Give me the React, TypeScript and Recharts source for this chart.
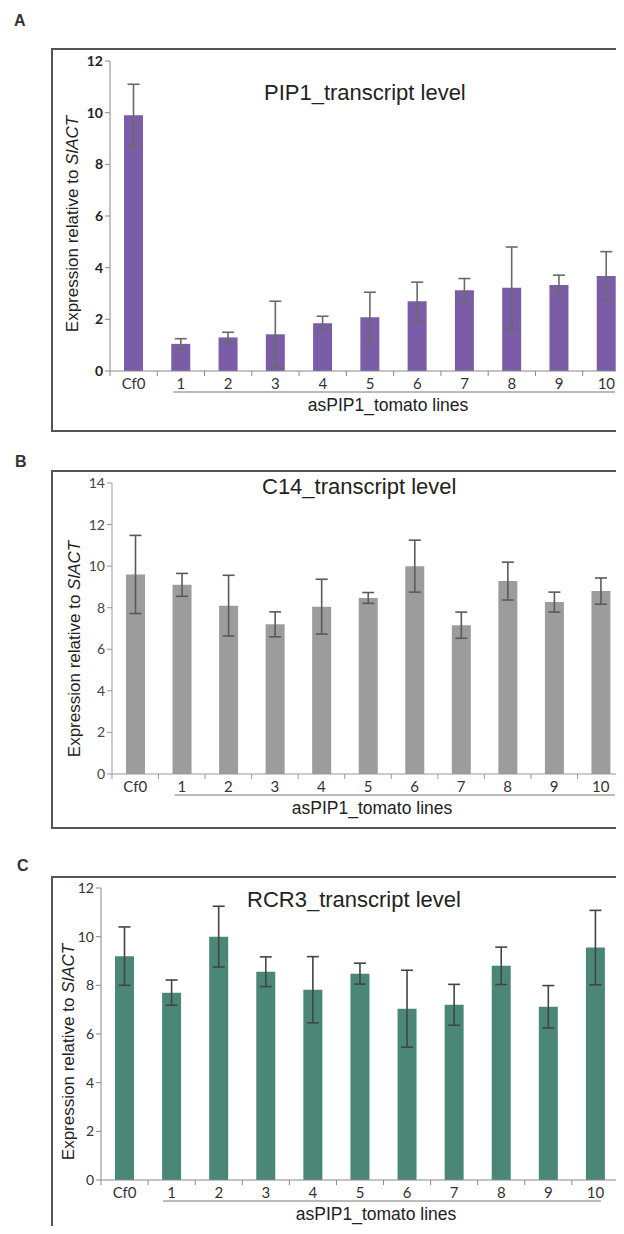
import React from "react";
import { BarChart, Bar, XAxis, YAxis, ErrorBar } from "recharts";

const lines = ["Cf0", "1", "2", "3", "4", "5", "6", "7", "8", "9", "10"];

const pip1Values = [9.9, 1.05, 1.3, 1.42, 1.85, 2.08, 2.7, 3.13, 3.22, 3.33, 3.68];
const pip1Errors = [1.2, 0.2, 0.2, 1.28, 0.27, 0.97, 0.74, 0.45, 1.58, 0.38, 0.94];
const pip1Ticks = [0, 2, 4, 6, 8, 10, 12];

const c14Values = [9.6, 9.1, 8.1, 7.2, 8.05, 8.47, 10.0, 7.16, 9.28, 8.27, 8.8];
const c14Errors = [1.88, 0.55, 1.46, 0.6, 1.32, 0.26, 1.25, 0.63, 0.91, 0.48, 0.63];
const c14Ticks = [0, 2, 4, 6, 8, 10, 12, 14];

const rcr3Values = [9.2, 7.7, 10.0, 8.56, 7.82, 8.48, 7.04, 7.2, 8.8, 7.12, 9.55];
const rcr3Errors = [1.2, 0.52, 1.25, 0.61, 1.36, 0.43, 1.58, 0.84, 0.77, 0.87, 1.53];
const rcr3Ticks = [0, 2, 4, 6, 8, 10, 12];

const CHART_W = 640;
const Y_AXIS_W = 60;
const X_AXIS_H = 30;
const TITLE_FONT = "'Liberation Sans', Arial, sans-serif";
const TICK_FONT = "Lato, 'Open Sans', sans-serif";

type PanelProps = {
  letter: string;
  letterLeft: number;
  letterTop: number;
  title: string;
  titleLeft: number;
  titleTop: number;
  boxTop: number;
  boxHeight: number;
  values: number[];
  errors: number[];
  ticks: number[];
  color: string;
  errColor: string;
  axisColor: string;
  tickColor: string;
  tickBold?: boolean;
  axisX: number;
  plotRight: number;
  plotTop: number;
  plotBottom: number;
  yLabelX: number;
  yLabelY: number;
  lineStart: number;
  lineEnd: number;
  xTitleX: number;
};

function Panel(p: PanelProps) {
  const data = lines.map((name, i) => ({ name, value: p.values[i], err: p.errors[i] }));
  const band = (p.plotRight - p.axisX) / lines.length;
  const top = p.plotTop - p.boxTop;
  const bottomY = p.plotBottom - p.boxTop;
  const margin = {
    top,
    left: p.axisX - Y_AXIS_W,
    right: CHART_W - p.plotRight,
    bottom: p.boxHeight - bottomY - X_AXIS_H,
  };

  // tick marks sit on the category boundaries, labels in the middle
  const xTick = (props: any) => {
    const { x, y, payload, index } = props;
    return (
      <g>
        <line x1={x - band / 2} x2={x - band / 2} y1={y} y2={y + 5} stroke={p.axisColor} />
        {index === lines.length - 1 && (
          <line x1={x + band / 2} x2={x + band / 2} y1={y} y2={y + 5} stroke={p.axisColor} />
        )}
        <text x={x} y={y + 18} textAnchor="middle" fontSize={15} fontFamily={TICK_FONT} fill="#333">
          {payload.value}
        </text>
      </g>
    );
  };

  const xTitle = () => (
    <g>
      <line
        x1={p.axisX + band + p.lineStart}
        x2={p.plotRight - p.lineEnd}
        y1={bottomY + 21}
        y2={bottomY + 21}
        stroke="#777"
        strokeWidth={1.2}
      />
      <text x={p.xTitleX} y={bottomY + 40} textAnchor="middle" fontSize={17.5} fontFamily={TITLE_FONT} fill="#222">
        asPIP1_tomato lines
      </text>
    </g>
  );

  const yTitle = () => (
    <text
      x={p.yLabelX}
      y={p.yLabelY}
      transform={`rotate(-90 ${p.yLabelX} ${p.yLabelY})`}
      textAnchor="middle"
      dominantBaseline="central"
      fontSize={17}
      fontFamily={TITLE_FONT}
      fill="#222"
    >
      Expression relative to <tspan fontStyle="italic">SlACT</tspan>
    </text>
  );

  return (
    <>
      <div
        style={{
          position: "absolute",
          left: p.letterLeft,
          top: p.letterTop,
          fontFamily: TITLE_FONT,
          fontWeight: "bold",
          fontSize: 16,
          lineHeight: "16px",
          color: "#333",
        }}
      >
        {p.letter}
      </div>
      <div
        style={{
          position: "absolute",
          left: 51,
          top: p.boxTop,
          width: 700,
          height: p.boxHeight,
          border: "2px solid #555",
          boxSizing: "border-box",
        }}
      />
      <div style={{ position: "absolute", left: 0, top: p.boxTop }}>
        <BarChart width={CHART_W} height={p.boxHeight} data={data} margin={margin}>
          <XAxis
            dataKey="name"
            stroke={p.axisColor}
            tickLine={false}
            tickSize={0}
            tickMargin={0}
            interval={0}
            height={X_AXIS_H}
            tick={xTick}
            label={xTitle}
          />
          <YAxis
            width={Y_AXIS_W}
            domain={[0, p.ticks[p.ticks.length - 1]]}
            ticks={p.ticks}
            interval={0}
            stroke={p.axisColor}
            tickSize={5}
            tickMargin={2}
            tick={{
              fill: p.tickColor,
              fontSize: 14,
              fontFamily: TICK_FONT,
              fontWeight: p.tickBold ? "bold" : "normal",
            }}
            label={yTitle}
          />
          <Bar dataKey="value" fill={p.color} barSize={19} isAnimationActive={false}>
            <ErrorBar dataKey="err" width={6} stroke={p.errColor} strokeWidth={1.6} direction="y" />
          </Bar>
        </BarChart>
      </div>
      <div
        style={{
          position: "absolute",
          left: p.titleLeft,
          top: p.titleTop,
          fontFamily: TITLE_FONT,
          fontSize: 22,
          lineHeight: "22px",
          color: "#222",
          whiteSpace: "nowrap",
        }}
      >
        {p.title}
      </div>
    </>
  );
}

export default function App() {
  return (
    <div
      style={{
        position: "relative",
        width: 624,
        height: 1234,
        margin: -8,
        overflow: "hidden",
        background: "#fff",
      }}
    >
      <Panel
        letter="A"
        letterLeft={14}
        letterTop={13}
        title="PIP1_transcript level"
        titleLeft={264}
        titleTop={82}
        boxTop={48}
        boxHeight={384}
        values={pip1Values}
        errors={pip1Errors}
        ticks={pip1Ticks}
        color="#7a5da6"
        errColor="#6a6a6a"
        axisColor="#888"
        tickColor="#222"
        tickBold
        axisX={110}
        plotRight={630}
        plotTop={61}
        plotBottom={371}
        yLabelX={72}
        yLabelY={176}
        lineStart={16}
        lineEnd={15}
        xTitleX={388}
      />
      <Panel
        letter="B"
        letterLeft={15}
        letterTop={454}
        title="C14_transcript level"
        titleLeft={262}
        titleTop={476}
        boxTop={470}
        boxHeight={359}
        values={c14Values}
        errors={c14Errors}
        ticks={c14Ticks}
        color="#9b9c9b"
        errColor="#5a5a5a"
        axisColor="#999"
        tickColor="#444"
        axisX={112}
        plotRight={624}
        plotTop={483}
        plotBottom={774}
        yLabelX={74}
        yLabelY={179}
        lineStart={16}
        lineEnd={9}
        xTitleX={372}
      />
      <Panel
        letter="C"
        letterLeft={17}
        letterTop={858}
        title="RCR3_transcript level"
        titleLeft={247}
        titleTop={889}
        boxTop={876}
        boxHeight={400}
        values={rcr3Values}
        errors={rcr3Errors}
        ticks={rcr3Ticks}
        color="#4a8776"
        errColor="#444"
        axisColor="#888"
        tickColor="#333"
        axisX={101}
        plotRight={619}
        plotTop={888}
        plotBottom={1180}
        yLabelX={68}
        yLabelY={176}
        lineStart={15}
        lineEnd={18}
        xTitleX={376}
      />
    </div>
  );
}
